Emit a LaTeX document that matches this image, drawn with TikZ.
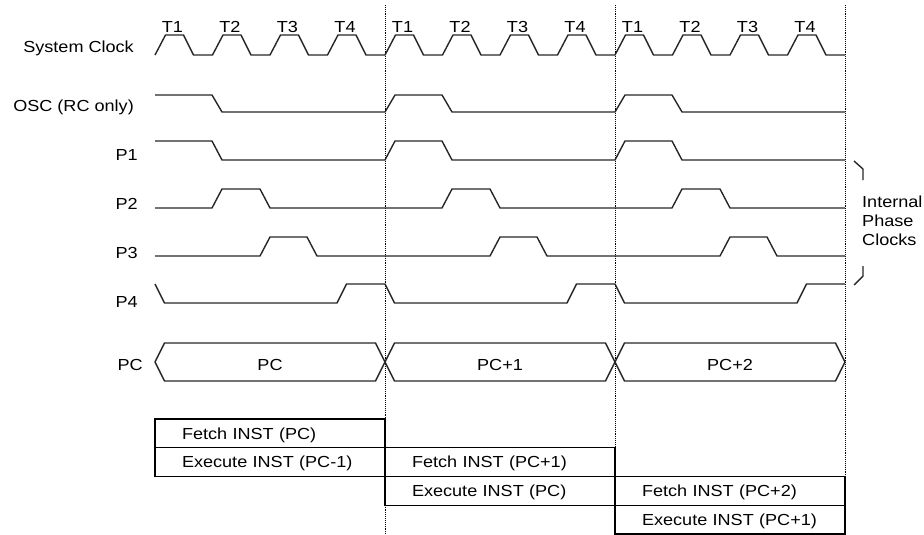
\documentclass[tikz,border=0pt]{standalone}
\usepackage{fontspec}
\setmainfont{Liberation Sans}[FakeStretch=1.13]
\usepackage{tikz}
\usetikzlibrary{positioning}

\begin{document}
\begin{tikzpicture}[x=1pt, y=-1pt, font=\fontsize{16}{19}\selectfont,
  wave/.style={line width=1.4pt, line join=round, black!85},
  cyclesep/.style={densely dotted, line width=0.9pt},
  sig/.style={anchor=base east, inner sep=0pt},
  tlabel/.style={anchor=base, inner sep=0pt},
  instrow/.style={draw, line width=1.2pt, outer sep=0pt, minimum width=230pt, minimum height=28.75pt,
    inner xsep=27pt, inner ysep=0pt, text width=176pt, align=left, text height=11.5pt, text depth=0pt}]
\useasboundingbox (0,0) rectangle (924,535);
% Cycle boundaries
\foreach \x in {385,615,845} {
  \draw[cyclesep] (\x,5) -- (\x,534);
}
% Signal names
\node[sig] (lclk) at (134,53) {System Clock};
\node[sig] (losc) at (134,111) {OSC (RC only)};
\node[sig] (lp1) at (138,160) {P1};
\node[sig] (lp2) at (138,209) {P2};
\node[sig] (lp3) at (138,258) {P3};
\node[sig] (lp4) at (138,307) {P4};
\node[sig] (lpc) at (143,370) {PC};
% Q-cycle labels
\foreach \c in {0,1,2} {
  \foreach \t in {1,...,4} {
    \node[tlabel] (t\c\t) at ({172.5+230*\c+57.5*(\t-1)},32.5) {T\t};
  }
}
% System clock
\draw[wave] (155,55) \foreach \k in {1,...,12} { -- ++(10.5,-20) -- ++(18,0) -- ++(10,20) -- ++(19,0) };
% OSC
\draw[wave] (155,95) -- (212,95) -- (222,112) \foreach \c in {385,615} { -- (\c,112) -- (\c+10,95) -- (\c+57,95) -- (\c+67,112) } -- (845,112);
% Internal phase clocks
\draw[wave] (155,141) -- (212,141) -- (222,160) \foreach \c in {385,615} { -- (\c,160) -- (\c+10,141) -- (\c+57,141) -- (\c+67,160) } -- (845,160);
\draw[wave] (155,208) \foreach \c in {155,385,615} { -- (\c+57,208) -- (\c+67,189) -- (\c+105,189) -- (\c+115,208) } -- (845,208);
\draw[wave] (155,256) \foreach \c in {155,385,615} { -- (\c+105,256) -- (\c+115,237) -- (\c+152,237) -- (\c+162,256) } -- (845,256);
\draw[wave] (155,284) \foreach \c in {155,385,615} { -- (\c+9.5,303) -- (\c+182,303) -- (\c+191.5,284) -- (\c+230,284) };
% Bracket
\draw[wave] (854,161) -- (863,169) -- (863,180);
\draw[wave] (863,266) -- (863,276) -- (854,285);
\node[anchor=west, align=left, inner sep=0pt] (phase) at (862,220.5) {Internal\\Phase\\Clocks};
% PC bus
\foreach \c/\v in {155/PC, 385/PC+1, 615/PC+2} {
  \draw[wave] (\c,362) -- (\c+9.5,343) -- (\c+220.5,343) -- (\c+230,362) -- (\c+220.5,381) -- (\c+9.5,381) -- cycle;
  \node[tlabel] (bus\c) at (\c+115,370) {\v};
}
% Fetch / execute
\node[instrow, anchor=north west] (fetch1) at (155,419) {Fetch INST (PC)};
\node[instrow, below=0pt of fetch1] (exec1) {Execute INST (PC-1)};
\node[instrow, right=0pt of exec1] (fetch2) {Fetch INST (PC+1)};
\node[instrow, below=0pt of fetch2] (exec2) {Execute INST (PC)};
\node[instrow, right=0pt of exec2] (fetch3) {Fetch INST (PC+2)};
\node[instrow, below=0pt of fetch3] (exec3) {Execute INST (PC+1)};
\end{tikzpicture}
\end{document}
